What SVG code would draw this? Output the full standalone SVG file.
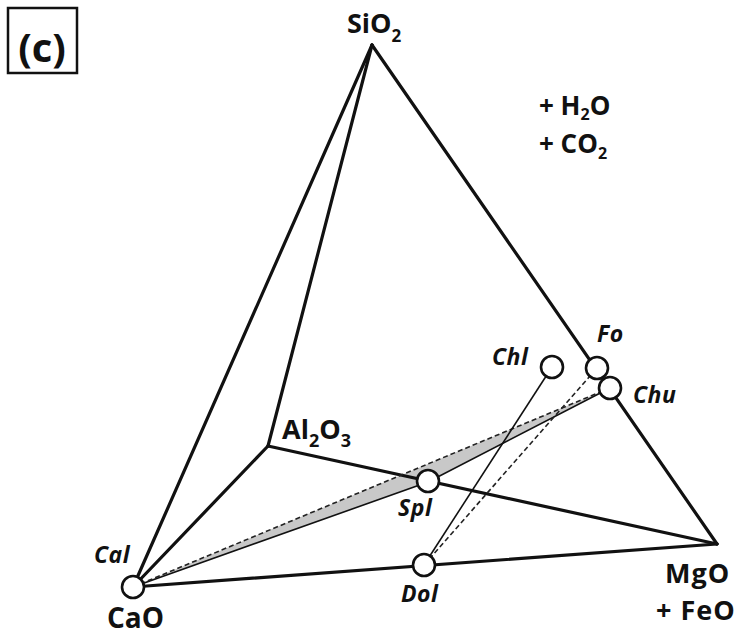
<svg xmlns="http://www.w3.org/2000/svg" width="746" height="641" viewBox="0 0 746 641">
<style>
.edge{stroke:#111;stroke-width:3.2;fill:none;stroke-linecap:round;stroke-linejoin:round}
.thin{stroke:#111;stroke-width:1.6;fill:none}
.dash{stroke:#222;stroke-width:1.6;fill:none;stroke-dasharray:5 3}
.node{fill:#fff;stroke:#111;stroke-width:2.6}
.lab{font-family:"Open Sans","Noto Sans","Liberation Sans",sans-serif;font-weight:bold;fill:#111}
.min{font-family:"Open Sans","Noto Sans","Liberation Sans",sans-serif;font-weight:bold;font-style:italic;fill:#111;font-size:23px;letter-spacing:0.5px}
</style>
<rect width="746" height="641" fill="#fff"/>
<g id="panel-label">
<rect x="8" y="8" width="69" height="65" fill="none" stroke="#111" stroke-width="2.5"/>
<text class="lab" x="42" y="62" font-size="40" text-anchor="middle">(c)</text>
</g>
<g id="connectors">
<polygon points="133,587 428,482 610,388" fill="#c8c8c8" stroke="none"/>
<line class="edge" x1="372" y1="45" x2="133" y2="587"/>
<line class="edge" x1="372" y1="45" x2="268" y2="446"/>
<line class="edge" x1="372" y1="45" x2="717" y2="544"/>
<line class="edge" x1="268" y1="446" x2="133" y2="587"/>
<line class="edge" x1="268" y1="446" x2="717" y2="544"/>
<line class="edge" x1="133" y1="587" x2="717" y2="544"/>
<polyline class="thin" points="133,587 428,482 610,388" stroke-width="2"/>
<line class="dash" x1="133" y1="587" x2="610" y2="388"/>
<line class="dash" x1="424" y1="565" x2="597" y2="368"/>
<line class="thin" x1="424" y1="565" x2="552" y2="367"/>
</g>
<g id="SiO2"><text class="lab" x="347" y="33" font-size="27">SiO<tspan font-size="17" dy="9">2</tspan></text></g>
<g id="volatiles">
<text class="lab" x="539" y="115" font-size="26">+ H<tspan font-size="16" dy="5">2</tspan><tspan dy="-5">O</tspan></text>
<text class="lab" x="539" y="153" font-size="26">+ CO<tspan font-size="16" dy="6">2</tspan></text>
</g>
<g id="Al2O3"><text class="lab" x="282" y="439" font-size="27">Al<tspan font-size="18" dy="8">2</tspan><tspan dy="-8">O</tspan><tspan font-size="18" dy="8">3</tspan></text></g>
<g id="CaO"><circle class="node" cx="133" cy="587" r="11"/><text class="min" x="94" y="563">Cal</text><text class="lab" x="107" y="628" font-size="28">CaO</text></g>
<g id="MgO"><text class="lab" x="665" y="583" font-size="27" letter-spacing="1">MgO</text><text class="lab" x="656" y="620" font-size="27" letter-spacing="1">+ FeO</text></g>
<g id="Spl"><circle class="node" cx="428" cy="481" r="11"/><text class="min" x="398" y="516">Spl</text></g>
<g id="Dol"><circle class="node" cx="424" cy="565" r="11"/><text class="min" x="401" y="602">Dol</text></g>
<g id="Chl"><circle class="node" cx="552" cy="367" r="11"/><text class="min" x="492" y="365">Chl</text></g>
<g id="Fo"><circle class="node" cx="597" cy="368" r="11"/><text class="min" x="597" y="342">Fo</text></g>
<g id="Chu"><circle class="node" cx="610" cy="388" r="11"/><text class="min" x="633" y="403">Chu</text></g>
</svg>
